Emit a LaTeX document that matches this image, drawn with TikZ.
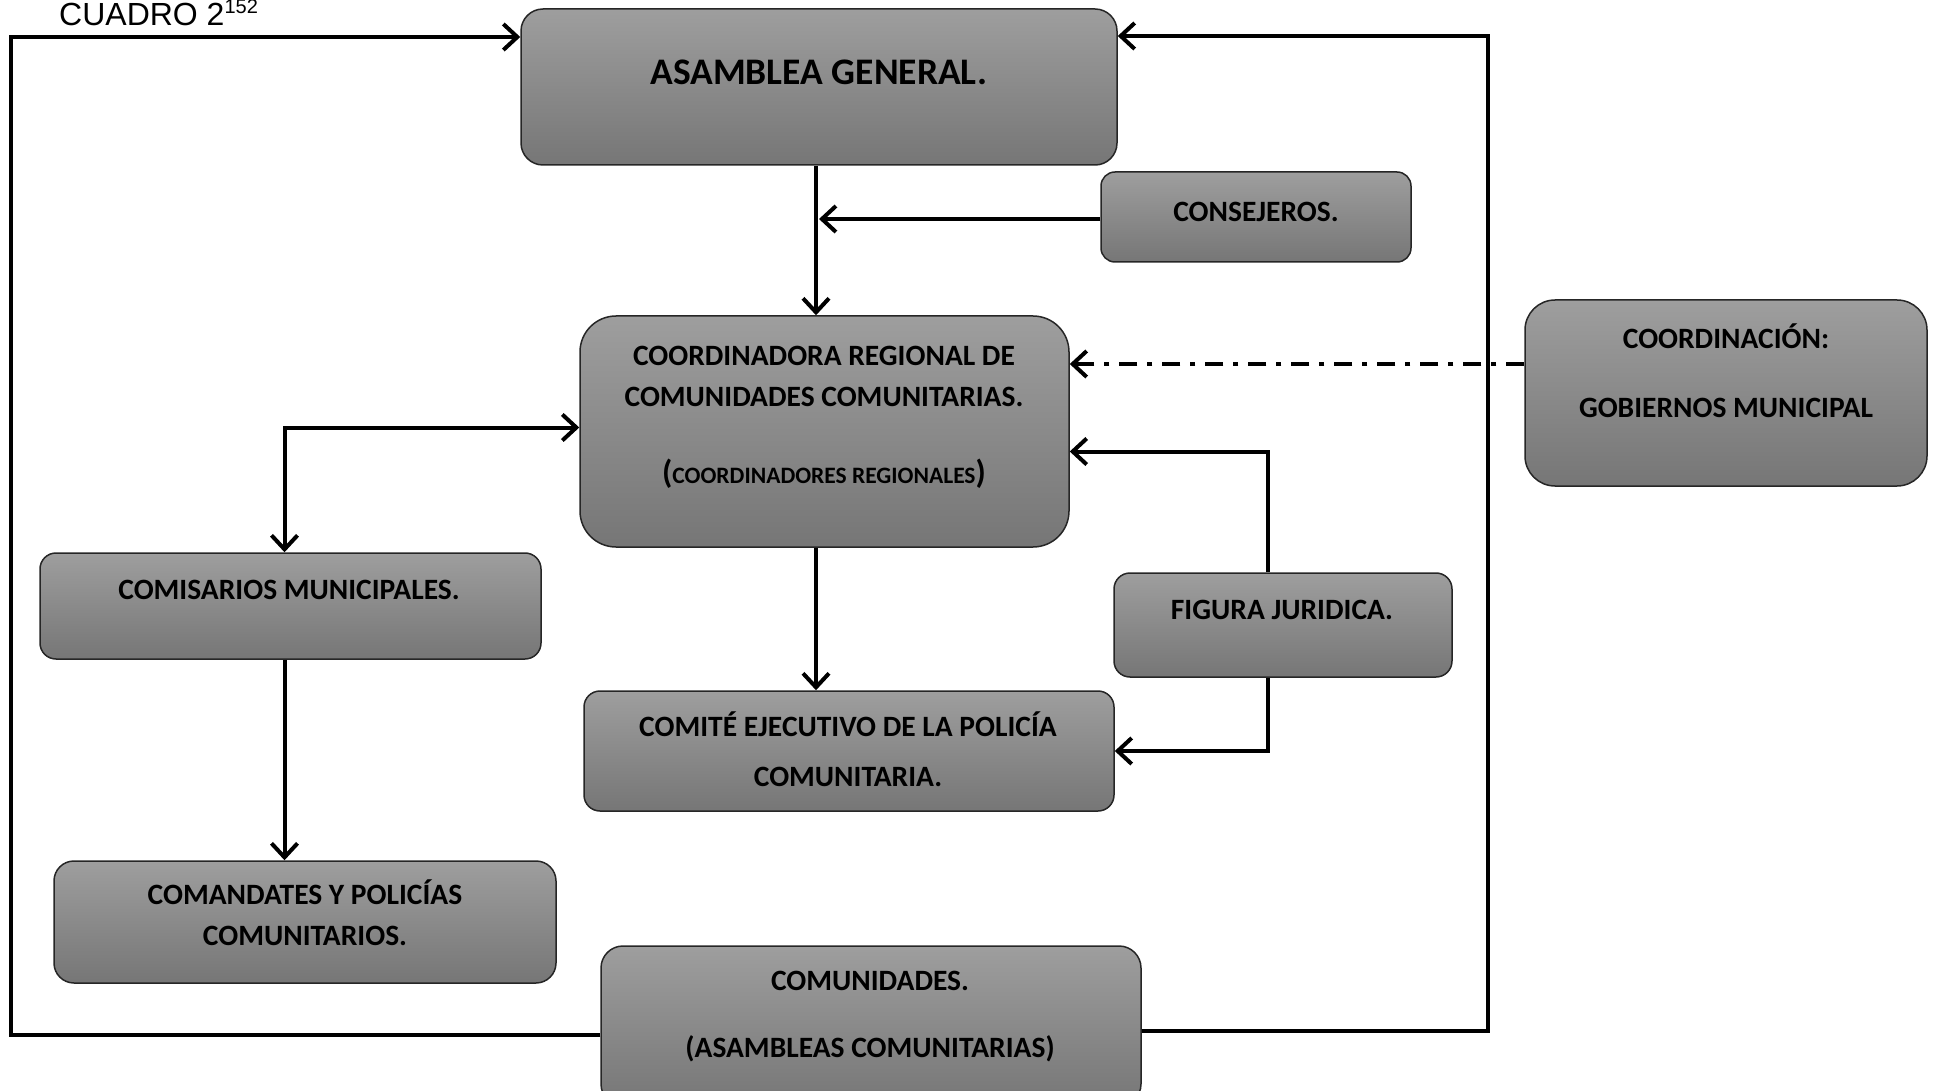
\documentclass[tikz,border=0pt]{standalone}
\usepackage{fontspec}
\setmainfont{Carlito}
\newfontfamily\arialfont{Liberation Sans}
\usetikzlibrary{arrows.meta, positioning}

\definecolor{boxtop}{RGB}{158,158,158}
\definecolor{boxbot}{RGB}{118,118,118}

\tikzset{
  box/.style={draw=black!85, line width=1.5pt, top color=boxtop, bottom color=boxbot, rounded corners=#1},
  box/.default=18pt,
  txt/.style={font=\fontsize{29.5}{41}\selectfont\bfseries, align=center},
  conn/.style={line width=4pt, -{Straight Barb[length=14pt,width=26pt]}},
  both/.style={line width=4pt, {Straight Barb[length=14pt,width=26pt]}-{Straight Barb[length=14pt,width=26pt]}},
  dashdot/.style={conn, dash pattern=on 18pt off 10pt on 5pt off 10pt}
}

\begin{document}
\begin{tikzpicture}[x=1pt, y=-1pt]
\useasboundingbox (0,0) rectangle (1936,1091);

% Title
\node[font=\arialfont\fontsize{32}{32}\selectfont, anchor=base west, inner sep=0pt] (cuadro) at (59,26)
  {CUADRO 2\raisebox{12pt}{\fontsize{20}{20}\selectfont 152}};

% Boxes
\node[box=22pt, minimum width=596pt, minimum height=156pt] (asamblea) at (819,87) {};
\node[box=14pt, minimum width=310pt, minimum height=90pt] (consejeros) at (1256,217) {};
\node[box=36pt, minimum width=489pt, minimum height=231pt] (coordinadora) at (824.5,431.5) {};
\node[box=30pt, minimum width=402pt, minimum height=186pt] (coordinacion) at (1726,393) {};
\node[box=16pt, minimum width=501pt, minimum height=106pt] (comisarios) at (290.5,606) {};
\node[box=16pt, minimum width=338pt, minimum height=104pt] (figura) at (1283,625) {};
\node[box=16pt, minimum width=530pt, minimum height=120pt] (comite) at (849,751) {};
\node[box=20pt, minimum width=502pt, minimum height=122pt] (comandantes) at (305,922) {};
\node[box=22pt, minimum width=540pt, minimum height=160pt] (comunidades) at (871,1026) {};

% Texts
\node[txt, font=\fontsize{37.5}{41}\selectfont\bfseries] (asambleaT) at (819,72) {ASAMBLEA GENERAL.};
\node[txt] (consejerosT) at (1256,212) {CONSEJEROS.};
\node[txt] (coordinadoraT) at (824,417) {COORDINADORA REGIONAL DE\\COMUNIDADES COMUNITARIAS.\\[36pt]{\fontsize{33}{41}\selectfont(}{\fontsize{23.5}{41}\selectfont COORDINADORES REGIONALES}{\fontsize{33}{41}\selectfont)}};
\node[txt] (coordinacionT) at (1726,371) {COORDINACIÓN:\\[28pt]GOBIERNOS MUNICIPAL};
\node[txt] (comisariosT) at (289,590) {COMISARIOS MUNICIPALES.};
\node[txt] (figuraT) at (1282,610) {FIGURA JURIDICA.};
\node[txt] (comiteT) at (848,749) {COMITÉ EJECUTIVO DE LA POLICÍA\\[9pt]COMUNITARIA.};
\node[txt] (comandantesT) at (305,913) {COMANDATES Y POLICÍAS\\COMUNITARIOS.};
\node[txt] (comunidadesT) at (870,1017) {COMUNIDADES.\\[26pt](ASAMBLEAS COMUNITARIAS)};

% Loops back to the assembly
\coordinate (loopL) at (11,37);
\coordinate (loopR) at (1488,36);
\draw[conn] ([yshift=-9pt]comunidades.west) -| (loopL) -- (loopL -| asamblea.west);
\draw[conn] ([yshift=-5pt]comunidades.east) -| (loopR) -- (loopR -| asamblea.east);

% Central column
\draw[conn] ([xshift=-3pt]asamblea.south) -- ([xshift=-3pt]asamblea.south |- coordinadora.north);
\draw[conn] ([yshift=-2pt]consejeros.west) -- ([yshift=-2pt]consejeros.west -| asamblea.south);
\draw[conn] ([xshift=-3pt]asamblea.south |- coordinadora.south) -- ([xshift=-3pt]asamblea.south |- comite.north);
\draw[dashdot] ([yshift=29pt]coordinacion.west) -- ([yshift=29pt]coordinacion.west -| coordinadora.east);
\draw[conn] ([xshift=-15pt]figura.north) |- ([yshift=-20pt]coordinadora.east);
\draw[conn] ([xshift=-15pt]figura.south) |- (comite.east);

% Left column
\draw[both] ([xshift=-6pt]comisarios.north) |- ([yshift=4pt]coordinadora.west);
\draw[conn] ([xshift=-6pt]comisarios.south) -- ([xshift=-6pt]comisarios.south |- comandantes.north);
\end{tikzpicture}
\end{document}
